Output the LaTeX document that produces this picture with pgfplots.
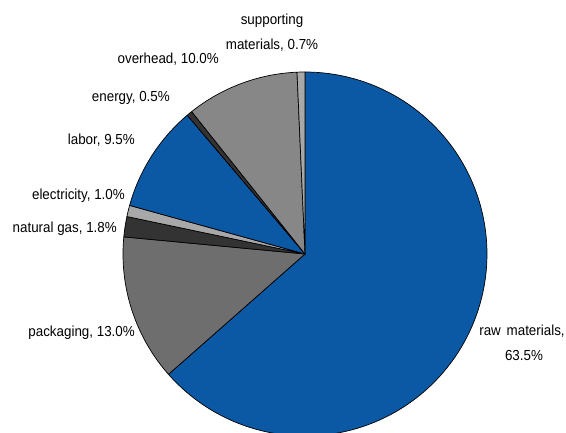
\documentclass[border=0pt]{standalone}
\usepackage{pgfplots}
\pgfplotsset{compat=1.18}
\usepackage{fontspec}
\setmainfont{Liberation Sans}[FakeStretch=0.92]
\definecolor{cblue}{HTML}{0B58A4}
\definecolor{cpack}{HTML}{6E6E6E}
\definecolor{cdark}{HTML}{333333}
\definecolor{clight}{HTML}{A8A8A8}
\definecolor{cover}{HTML}{878787}
\tikzset{lbl/.style={font=\fontsize{14.6}{16}\selectfont, text=black, inner sep=0pt}}
\begin{document}
\begin{tikzpicture}
\useasboundingbox (0,0) rectangle (566bp,433bp);
\begin{axis}[x=1bp, y=1bp, xmin=0, xmax=566, ymin=0, ymax=433,
  hide axis, scale only axis, anchor=origin, at={(0,0)},
  pie/.style={draw=black, line width=0.7pt, samples=120, variable=\t, line join=round}]
% shares (%), clockwise from 12 o'clock: 63.5, 13.0, 1.8, 1.0, 9.5, 0.5, 10.0, 0.7
\addplot[pie, fill=cblue, domain={90-3.6*63.5}:90] ({305+182*cos(\t)},{179+182*sin(\t)}) -- (axis cs:305,179) -- cycle;
\addplot[pie, fill=cpack, domain={90-3.6*76.5}:{90-3.6*63.5}] ({305+182*cos(\t)},{179+182*sin(\t)}) -- (axis cs:305,179) -- cycle;
\addplot[pie, fill=cdark, domain={90-3.6*78.3}:{90-3.6*76.5}] ({305+182*cos(\t)},{179+182*sin(\t)}) -- (axis cs:305,179) -- cycle;
\addplot[pie, fill=clight, domain={90-3.6*79.3}:{90-3.6*78.3}] ({305+182*cos(\t)},{179+182*sin(\t)}) -- (axis cs:305,179) -- cycle;
\addplot[pie, fill=cblue, domain={90-3.6*88.8}:{90-3.6*79.3}] ({305+182*cos(\t)},{179+182*sin(\t)}) -- (axis cs:305,179) -- cycle;
\addplot[pie, fill=cdark, domain={90-3.6*89.3}:{90-3.6*88.8}] ({305+182*cos(\t)},{179+182*sin(\t)}) -- (axis cs:305,179) -- cycle;
\addplot[pie, fill=cover, domain={90-3.6*99.3}:{90-3.6*89.3}] ({305+182*cos(\t)},{179+182*sin(\t)}) -- (axis cs:305,179) -- cycle;
\addplot[pie, fill=clight, domain={90-3.6*100}:{90-3.6*99.3}] ({305+182*cos(\t)},{179+182*sin(\t)}) -- (axis cs:305,179) -- cycle;
\node[lbl, anchor=center] at (axis cs:272,412) {supporting};
\node[lbl, anchor=center] at (axis cs:272,388) {materials, 0.7\%};
\node[lbl, anchor=east] at (axis cs:219,374) {overhead, 10.0\%};
\node[lbl, anchor=east] at (axis cs:170,335) {energy, 0.5\%};
\node[lbl, anchor=east] at (axis cs:135,293) {labor, 9.5\%};
\node[lbl, anchor=east] at (axis cs:125,237) {electricity, 1.0\%};
\node[lbl, anchor=east] at (axis cs:117,204) {natural gas, 1.8\%};
\node[lbl, anchor=east] at (axis cs:135,100) {packaging, 13.0\%};
\node[lbl, anchor=center] at (axis cs:522,102) {raw\hspace{0.4em}materials,};
\node[lbl, anchor=center] at (axis cs:524,78) {63.5\%};
\end{axis}
\end{tikzpicture}
\end{document}
